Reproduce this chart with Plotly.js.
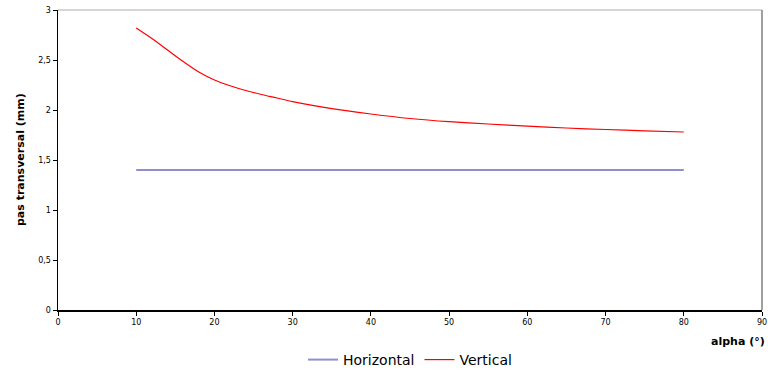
<!DOCTYPE html>
<html>
<head>
<meta charset="utf-8">
<script src="https://cdn.plot.ly/plotly-3.0.1.min.js"></script>
<style>html,body{margin:0;padding:0;background:#fff;}#chart{width:768px;height:371px;}</style>
</head>
<body>
<div id="chart"></div>
<script>
// Data
const alphaValues = [10, 12, 14, 16, 18, 20, 22, 24, 26, 28, 30, 35, 40, 45, 50, 55, 60, 65, 70, 75, 80];
const horizontalValues = [1.4, 1.4, 1.4, 1.4, 1.4, 1.4, 1.4, 1.4, 1.4, 1.4, 1.4, 1.4, 1.4, 1.4, 1.4, 1.4, 1.4, 1.4, 1.4, 1.4, 1.4];
const verticalValues = [2.82, 2.715, 2.60, 2.485, 2.38, 2.30, 2.243, 2.195, 2.155, 2.12, 2.083, 2.013, 1.96, 1.915, 1.883, 1.86, 1.838, 1.82, 1.805, 1.792, 1.78];
const yTickVals = [0, 0.5, 1, 1.5, 2, 2.5, 3];
const yTickText = ["0", "0,5", "1", "1,5", "2", "2,5", "3"];
const xTickVals = [0, 10, 20, 30, 40, 50, 60, 70, 80, 90];
const seriesNames = ["Horizontal", "Vertical"];
const xTitle = "alpha (°)";
const yTitle = "pas transversal (mm)";

const FONT = "DejaVu Sans, Liberation Sans, Arial, sans-serif";

const traces = [
  {x: alphaValues, y: horizontalValues, name: seriesNames[0], mode: "lines",
   line: {color: "#8F8FCB", width: 2}},
  {x: alphaValues, y: verticalValues, name: seriesNames[1], mode: "lines",
   line: {color: "#FF0000", width: 1.2, shape: "spline", smoothing: 0.8}}
];

const layout = {
  width: 768, height: 371,
  margin: {l: 58, r: 6, t: 10, b: 61, autoexpand: false},
  paper_bgcolor: "#ffffff", plot_bgcolor: "#ffffff",
  font: {family: FONT, size: 8, color: "#000"},
  showlegend: true,
  legend: {orientation: "h", x: 0.5, xanchor: "center", xref: "paper",
           y: 11 / 371, yanchor: "middle", yref: "container",
           font: {family: FONT, size: 14, color: "#000"}, itemwidth: 30, tracegroupgap: 0},
  xaxis: {range: [0, 90], tickvals: xTickVals, ticks: "outside", ticklen: 4, tickcolor: "#000",
          showline: true, linecolor: "#000", linewidth: 1.5, showgrid: false, zeroline: false,
          tickfont: {family: FONT, size: 8, color: "#000"}, fixedrange: true, automargin: false},
  yaxis: {range: [0, 3], tickvals: yTickVals, ticktext: yTickText, ticks: "outside", ticklen: 4,
          tickcolor: "#000", showline: true, linecolor: "#000", linewidth: 1.5, showgrid: false,
          zeroline: false, tickfont: {family: FONT, size: 8, color: "#000"}, fixedrange: true,
          automargin: false},
  shapes: [
    {type: "line", xref: "paper", yref: "paper", x0: 0, x1: 1, y0: 1, y1: 1,
     line: {color: "#C8C8C8", width: 1.5}},
    {type: "line", xref: "paper", yref: "paper", x0: 1, x1: 1, y0: 0, y1: 1,
     line: {color: "#808080", width: 1.5}}
  ],
  annotations: [
    {text: "<b>" + yTitle + "</b>", xref: "paper", yref: "paper", x: 0, y: 0.5,
     xanchor: "center", yanchor: "middle", xshift: -38, textangle: -90, showarrow: false,
     font: {family: FONT, size: 11, color: "#000"}},
    {text: "<b>" + xTitle + "</b>", xref: "paper", yref: "paper", x: 1, y: 0,
     xanchor: "right", yanchor: "middle", xshift: 5, yshift: -31, showarrow: false,
     font: {family: FONT, size: 11, color: "#000"}}
  ]
};

Plotly.newPlot("chart", traces, layout, {displayModeBar: false, staticPlot: true});
</script>
</body>
</html>
